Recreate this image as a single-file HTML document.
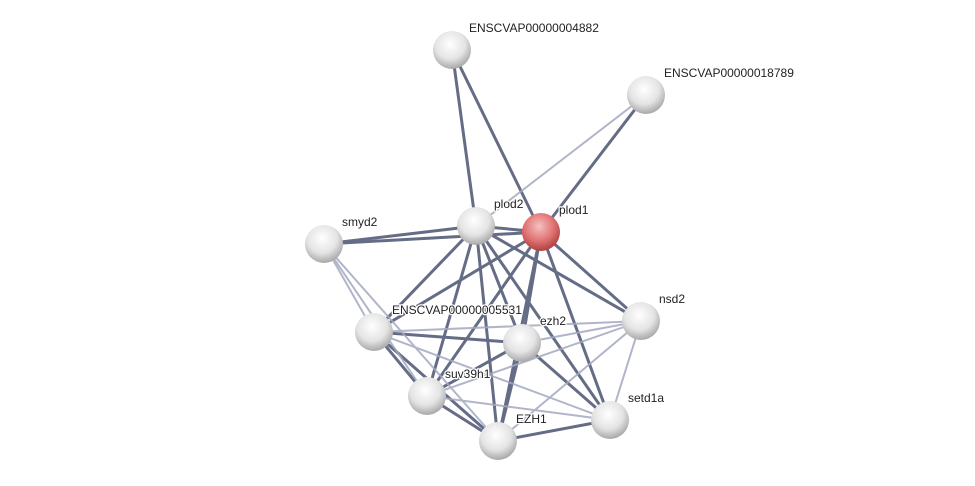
<!DOCTYPE html>
<html><head><meta charset="utf-8"><style>
html,body{margin:0;padding:0;background:#fff;}
svg{display:block;}
text{font-family:"Liberation Sans",sans-serif;font-size:12px;fill:#222;stroke:#fff;stroke-width:2.5px;paint-order:stroke;stroke-linejoin:round;}
</style></head><body>
<svg width="975" height="486" viewBox="0 0 975 486" xmlns="http://www.w3.org/2000/svg">
<defs>
<radialGradient id="g" cx="45%" cy="35%" r="65%">
<stop offset="0" stop-color="#ffffff"/><stop offset="0.6" stop-color="#e4e4e4"/><stop offset="1" stop-color="#a8a8a8"/>
</radialGradient>
<radialGradient id="r" cx="45%" cy="35%" r="65%">
<stop offset="0" stop-color="#f6c0c0"/><stop offset="0.6" stop-color="#e07272"/><stop offset="1" stop-color="#b04040"/>
</radialGradient>
</defs>
<g stroke-linecap="round">
<g stroke="#3f4868" stroke-width="3" opacity="0.8">
<line x1="452" y1="50" x2="476" y2="226"/>
<line x1="452" y1="50" x2="541" y2="232"/>
<line x1="646" y1="95" x2="541" y2="232"/>
<line x1="476" y1="226" x2="541" y2="232"/>
<line x1="324" y1="244" x2="476" y2="226"/>
<line x1="324" y1="244" x2="541" y2="232"/>
<line x1="476" y1="226" x2="374" y2="332"/>
<line x1="476" y1="226" x2="522" y2="343"/>
<line x1="476" y1="226" x2="427" y2="396"/>
<line x1="476" y1="226" x2="498" y2="441"/>
<line x1="476" y1="226" x2="610" y2="420"/>
<line x1="476" y1="226" x2="641" y2="321"/>
<line x1="541" y1="232" x2="374" y2="332"/>
<line x1="541" y1="232" x2="522" y2="343"/>
<line x1="541" y1="232" x2="427" y2="396"/>
<line x1="541" y1="232" x2="498" y2="441"/>
<line x1="541" y1="232" x2="641" y2="321"/>
<line x1="541" y1="232" x2="610" y2="420"/>
<line x1="374" y1="332" x2="522" y2="343"/>
<line x1="374" y1="332" x2="427" y2="396"/>
<line x1="374" y1="332" x2="498" y2="441"/>
<line x1="522" y1="343" x2="427" y2="396"/>
<line x1="522" y1="343" x2="498" y2="441"/>
<line x1="522" y1="343" x2="610" y2="420"/>
<line x1="427" y1="396" x2="498" y2="441"/>
<line x1="498" y1="441" x2="610" y2="420"/>
</g>
<g stroke="#a4a9c0" stroke-width="2" opacity="0.85">
<line x1="646" y1="95" x2="476" y2="226"/>
<line x1="324" y1="244" x2="374" y2="332"/>
<line x1="324" y1="244" x2="427" y2="396"/>
<line x1="324" y1="244" x2="498" y2="441"/>
<line x1="374" y1="332" x2="641" y2="321"/>
<line x1="374" y1="332" x2="610" y2="420"/>
<line x1="522" y1="343" x2="641" y2="321"/>
<line x1="427" y1="396" x2="641" y2="321"/>
<line x1="427" y1="396" x2="610" y2="420"/>
<line x1="498" y1="441" x2="641" y2="321"/>
<line x1="641" y1="321" x2="610" y2="420"/>
</g>
</g>
<g>
<circle cx="452" cy="50" r="19" fill="url(#g)"/>
<circle cx="646" cy="95" r="19" fill="url(#g)"/>
<circle cx="476" cy="226" r="19" fill="url(#g)"/>
<circle cx="541" cy="232" r="19" fill="url(#r)"/>
<circle cx="324" cy="244" r="19" fill="url(#g)"/>
<circle cx="374" cy="332" r="19" fill="url(#g)"/>
<circle cx="522" cy="343" r="19" fill="url(#g)"/>
<circle cx="641" cy="321" r="19" fill="url(#g)"/>
<circle cx="427" cy="396" r="19" fill="url(#g)"/>
<circle cx="610" cy="420" r="19" fill="url(#g)"/>
<circle cx="498" cy="441" r="19" fill="url(#g)"/>
</g>
<g>
<text x="469" y="32">ENSCVAP00000004882</text>
<text x="664" y="77">ENSCVAP00000018789</text>
<text x="494" y="208">plod2</text>
<text x="559" y="214">plod1</text>
<text x="342" y="226">smyd2</text>
<text x="392" y="314">ENSCVAP00000005531</text>
<text x="540" y="325">ezh2</text>
<text x="659" y="303">nsd2</text>
<text x="445" y="378">suv39h1</text>
<text x="628" y="402">setd1a</text>
<text x="516" y="423">EZH1</text>
</g>
</svg>
</body></html>
